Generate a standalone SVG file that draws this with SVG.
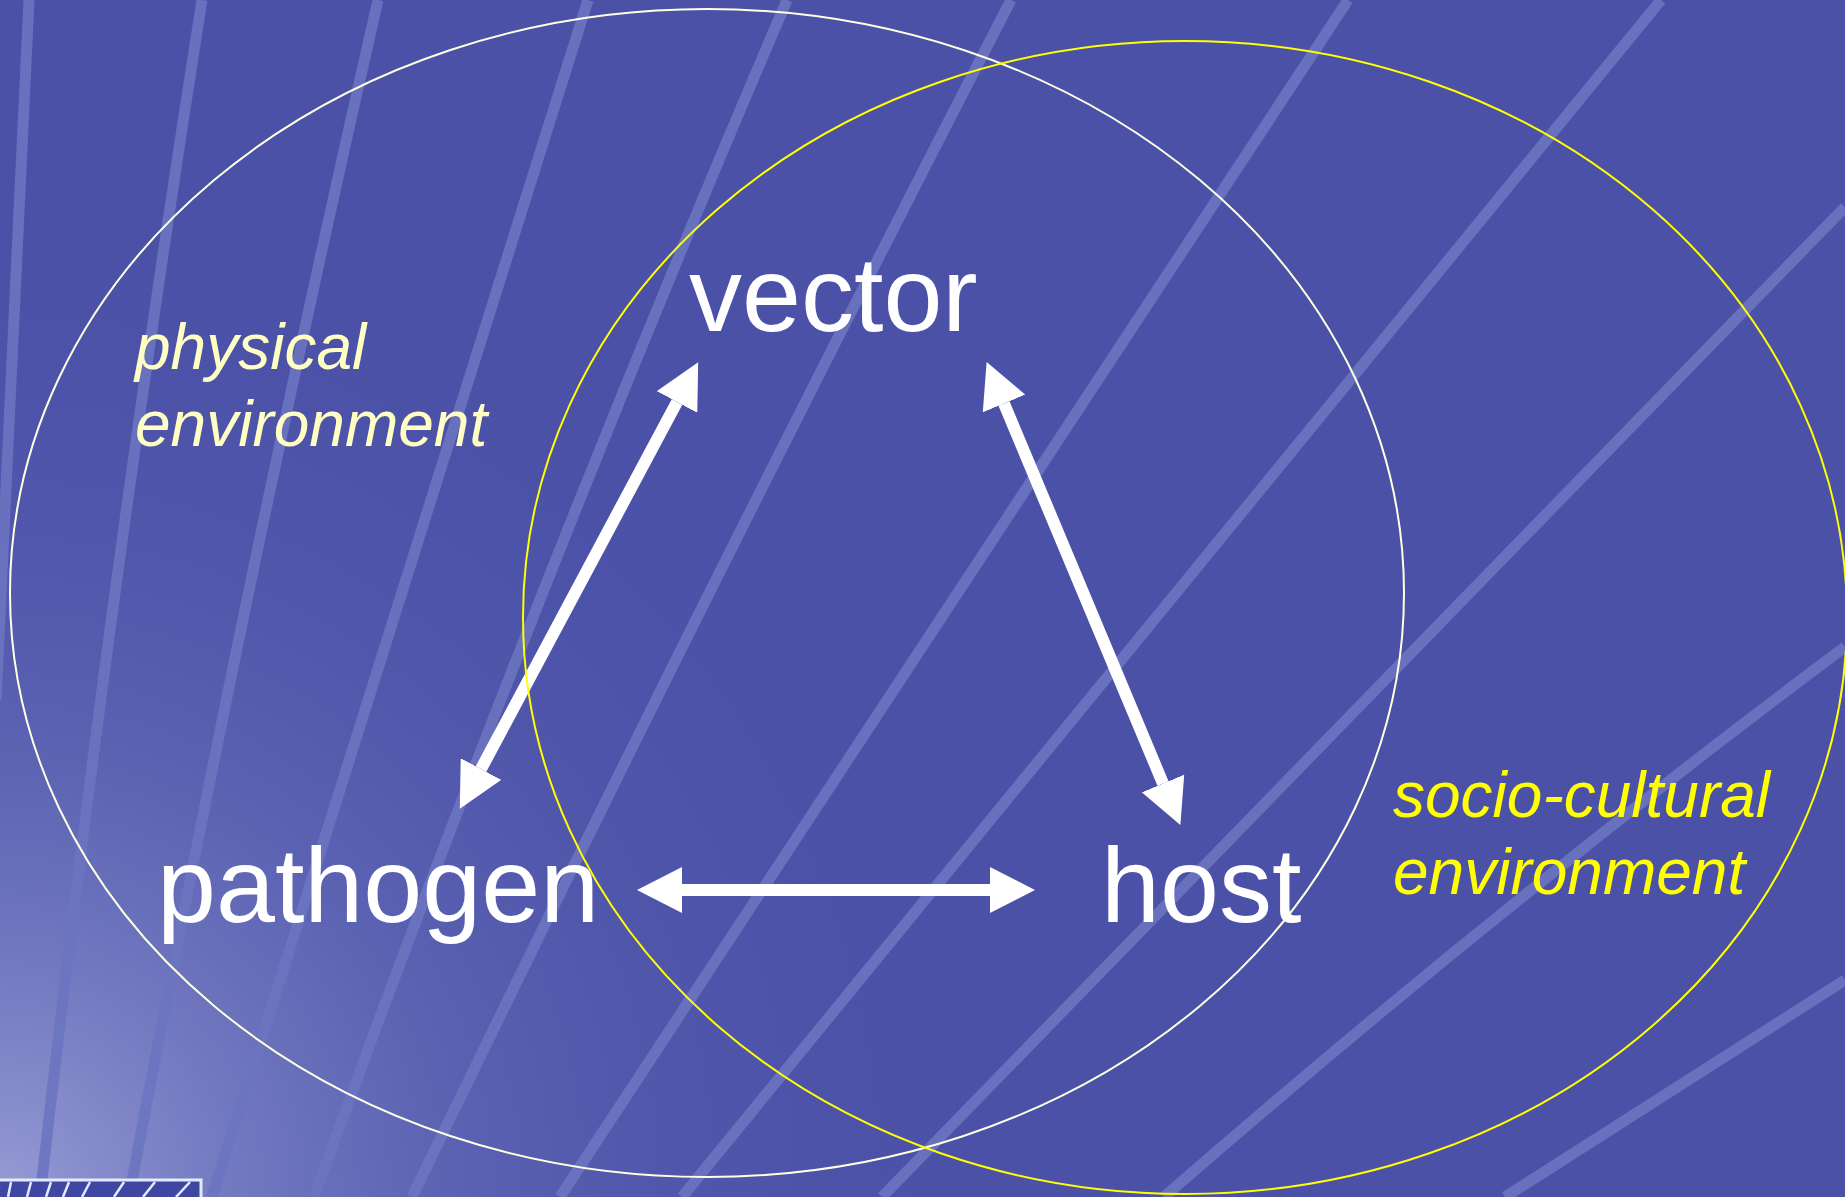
<svg xmlns="http://www.w3.org/2000/svg" width="1845" height="1197" viewBox="0 0 1845 1197">
  <style>
    .stripe { fill: none; stroke: #6c74c0; stroke-width: 11; stroke-linecap: butt; opacity: 0.9; }
    .main { font-family: "Liberation Sans", Arial, sans-serif; font-size: 106px; fill: #ffffff; }
    .env { font-family: "Liberation Sans", Arial, sans-serif; font-size: 64px; font-style: italic; }
    .conn { stroke: #ffffff; stroke-width: 12; fill: none; marker-start: url(#ah); marker-end: url(#ah); }
    .ring { fill: none; stroke-width: 2; }
  </style>
  <defs>
    <radialGradient id="glow" cx="0" cy="1197" r="1000" gradientUnits="userSpaceOnUse">
      <stop offset="0" stop-color="#a4a9dc" stop-opacity="0.85"/>
      <stop offset="0.45" stop-color="#7c83c8" stop-opacity="0.35"/>
      <stop offset="1" stop-color="#4a51a7" stop-opacity="0"/>
    </radialGradient>
    <marker id="ah" viewBox="0 0 45 46" refX="0" refY="23" markerWidth="45" markerHeight="46" markerUnits="userSpaceOnUse" orient="auto-start-reverse">
      <path d="M0,0 L45,23 L0,46 z" fill="#ffffff"/>
    </marker>
  </defs>

  <g id="background">
    <rect x="0" y="0" width="1845" height="1197" fill="#4a51a7"/>
    <rect x="0" y="0" width="1845" height="1197" fill="url(#glow)"/>
    <path class="stripe" d="M29,0 Q7.5,450 -4,700"/>
    <path class="stripe" d="M202,0 Q107,601.5 40,1197"/>
    <path class="stripe" d="M378,0 Q240.5,601.5 129,1197"/>
    <path class="stripe" d="M588,0 Q400,601.5 212,1197"/>
    <path class="stripe" d="M787,0 Q531.5,595.5 314,1197"/>
    <path class="stripe" d="M1011,0 Q700,601.5 412,1197"/>
    <path class="stripe" d="M1348,0 L560,1197"/>
    <path class="stripe" d="M1661,0 L682,1197"/>
    <path class="stripe" d="M1845,207 L882,1197"/>
    <path class="stripe" d="M1845,647 Q1495.5,908 1164,1197"/>
    <path class="stripe" d="M1845,980 L1505,1197"/>
    <g id="corner-logo">
      <rect x="-3" y="1180" width="204" height="30" fill="#3f47a2" stroke="#e6eaff" stroke-width="3"/>
      <g stroke="#e6eaff" stroke-width="2.5">
        <line x1="8" y1="1197" x2="11" y2="1182"/>
        <line x1="27" y1="1197" x2="31" y2="1182"/>
        <line x1="46" y1="1197" x2="51" y2="1182"/>
        <line x1="63" y1="1197" x2="69" y2="1182"/>
        <line x1="82" y1="1197" x2="90" y2="1182"/>
        <line x1="114" y1="1197" x2="124" y2="1182"/>
        <line x1="143" y1="1197" x2="155" y2="1182"/>
        <line x1="176" y1="1197" x2="190" y2="1182"/>
      </g>
    </g>
  </g>

  <g id="connectors">
    <line class="conn" x1="682" y1="890" x2="990" y2="890"/>
    <line class="conn" x1="481" y1="769" x2="677" y2="402"/>
    <line class="conn" x1="1004" y1="403.5" x2="1163" y2="783.5"/>
  </g>

  <g id="vector">
    <text class="main" x="689" y="331">vector</text>
  </g>
  <g id="pathogen">
    <text class="main" x="157" y="922">pathogen</text>
  </g>
  <g id="host">
    <text class="main" x="1101" y="922">host</text>
  </g>

  <g id="physical-environment">
    <ellipse class="ring" cx="707" cy="593" rx="697" ry="584" stroke="#ffffe6"/>
    <text class="env" fill="#ffffc4"><tspan x="135" y="369">physical</tspan><tspan x="135" y="446">environment</tspan></text>
  </g>
  <g id="socio-cultural-environment">
    <ellipse class="ring" cx="1185" cy="617.5" rx="662" ry="576.5" stroke="#ffff00"/>
    <text class="env" fill="#ffff00"><tspan x="1393" y="817">socio-cultural</tspan><tspan x="1393" y="894">environment</tspan></text>
  </g>
</svg>
